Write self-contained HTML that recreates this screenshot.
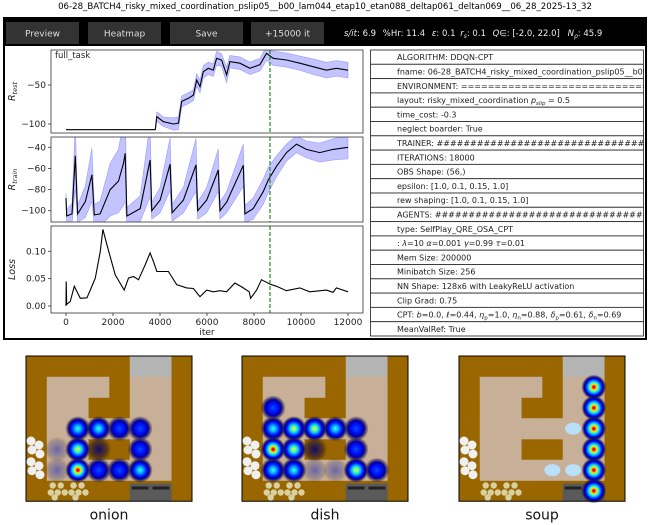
<!DOCTYPE html>
<html><head><meta charset="utf-8">
<style>
html,body{margin:0;padding:0;background:#fff;}
svg{display:block;font-family:"DejaVu Sans","Liberation Sans",sans-serif;}
</style></head>
<body>
<svg id="root" width="650" height="525" viewBox="0 0 650 525" xmlns="http://www.w3.org/2000/svg">
<defs>
<clipPath id="tclip"><rect x="370" y="48" width="274" height="290"/></clipPath>
<clipPath id="p1c"><rect x="51" y="50" width="312" height="83"/></clipPath>
<clipPath id="p2c"><rect x="51" y="137" width="312" height="85"/></clipPath>
<clipPath id="p3c"><rect x="51" y="226" width="312" height="87"/></clipPath>
<radialGradient id="h0"><stop offset="0" stop-color="#000070" stop-opacity="0.9"/><stop offset="0.6" stop-color="#201040" stop-opacity="0.6"/><stop offset="1" stop-color="#000" stop-opacity="0"/></radialGradient>
<radialGradient id="h1"><stop offset="0" stop-color="#3030b0" stop-opacity="0.6"/><stop offset="0.6" stop-color="#404090" stop-opacity="0.35"/><stop offset="1" stop-color="#000" stop-opacity="0"/></radialGradient>
<radialGradient id="h2"><stop offset="0" stop-color="#0050ff"/><stop offset="0.35" stop-color="#0010ff"/><stop offset="0.65" stop-color="#0000a0"/><stop offset="0.85" stop-color="#201050" stop-opacity="0.5"/><stop offset="1" stop-color="#000" stop-opacity="0"/></radialGradient>
<radialGradient id="h3"><stop offset="0" stop-color="#40ffe0"/><stop offset="0.28" stop-color="#00a0ff"/><stop offset="0.52" stop-color="#0010ff"/><stop offset="0.72" stop-color="#000090"/><stop offset="0.88" stop-color="#201050" stop-opacity="0.5"/><stop offset="1" stop-color="#000" stop-opacity="0"/></radialGradient>
<radialGradient id="h4"><stop offset="0" stop-color="#e0ff20"/><stop offset="0.18" stop-color="#60ffa0"/><stop offset="0.38" stop-color="#00b0ff"/><stop offset="0.58" stop-color="#0010ff"/><stop offset="0.76" stop-color="#000090"/><stop offset="0.9" stop-color="#201050" stop-opacity="0.5"/><stop offset="1" stop-color="#000" stop-opacity="0"/></radialGradient>
<radialGradient id="h5"><stop offset="0" stop-color="#b00000"/><stop offset="0.1" stop-color="#ff1000"/><stop offset="0.22" stop-color="#ffe000"/><stop offset="0.35" stop-color="#40ffc0"/><stop offset="0.5" stop-color="#00a0ff"/><stop offset="0.64" stop-color="#0010ff"/><stop offset="0.78" stop-color="#000090"/><stop offset="0.9" stop-color="#201050" stop-opacity="0.5"/><stop offset="1" stop-color="#000" stop-opacity="0"/></radialGradient>
</defs>
<g id="chartLayer"></g>
</svg>
<script>
// ---------------- chart data ----------------
const xTicks = [0, 2000, 4000, 6000, 8000, 10000, 12000];
const bestIter = 8680;
const testIter = [0, 3800, 3863, 4146, 4571, 4783, 4925, 5208, 5420, 5561, 5703, 5844, 6056, 6269, 6410, 6622, 6835, 6976, 7401, 7825, 8250, 8533, 8816, 9382, 9948, 10514, 11080, 11505, 12000];
const testVal  = [-107.3, -107.3, -90.6, -97, -100, -99, -71, -67, -63, -43.6, -52, -33, -28.6, -31, -15.8, -18, -37, -20, -22, -28.6, -24, -9.4, -15.8, -18, -22, -26.5, -31, -28.6, -31];
const testStd  = [0, 0, 6, 6, 8, 8, 7, 7, 7, 8, 8, 8, 8, 8, 9, 8, 10, 8, 8, 8, 8, 9, 9, 9, 9, 10, 10, 10, 10];
const testTicks = [-50, -100];
const trainIter = [0, 30, 255, 396, 495, 820, 962, 1104, 1203, 1450, 1882, 2235, 2448, 2519, 2590, 3156, 3580, 3651, 4005, 4429, 4514, 4995, 5533, 5604, 5986, 6481, 6552, 6835, 7543, 7614, 7967, 8391, 8604, 8958, 9382, 9807, 10231, 10797, 11363, 12000];
const trainVal  = [-88, -105, -103, -48, -103, -91.5, -78.8, -66, -104, -103, -80, -72, -55, -45.7, -105, -98, -52, -100, -90, -56, -102, -90, -56.7, -100, -90, -61.5, -100, -92, -57, -103, -98, -82, -71, -58, -45, -37, -42, -45, -42, -40];
const trainStd  = [5, 6, 10, 30, 8, 15, 20, 25, 10, 12, 25, 30, 40, 45, 8, 12, 35, 8, 12, 25, 8, 12, 25, 8, 12, 20, 8, 10, 20, 8, 10, 12, 12, 10, 8, 8, 8, 9, 10, 11];
const trainTicks = [-40, -60, -80, -100];
const lossIter = [0, 10, 30, 180, 354, 608, 891, 1033, 1245, 1458, 1571, 1740, 2094, 2476, 2660, 2873, 3085, 3368, 3580, 3750, 3863, 4358, 4712, 5137, 5420, 5703, 5986, 6269, 6552, 6835, 7189, 7543, 7797, 7854, 8109, 8321, 8675, 8958, 9382, 9948, 10373, 11080, 11363, 11505, 12000];
const lossVal  = [0.0, 0.045, 0.003, 0.008, 0.036, 0.014, 0.015, 0.029, 0.051, 0.10, 0.14, 0.112, 0.057, 0.029, 0.051, 0.054, 0.048, 0.075, 0.097, 0.078, 0.063, 0.063, 0.039, 0.033, 0.032, 0.017, 0.029, 0.026, 0.028, 0.026, 0.042, 0.033, 0.026, 0.014, 0.029, 0.048, 0.040, 0.036, 0.028, 0.033, 0.026, 0.029, 0.025, 0.033, 0.026];
const lossTicks = [0.10, 0.05, 0.00];
const tableRows = ["ALGORITHM: DDQN-CPT","fname: 06-28_BATCH4_risky_mixed_coordination_pslip05__b00_lam044","ENVIRONMENT: ============================================","layout: risky_mixed_coordination |PSLIP|","time_cost: -0.3","neglect boarder: True","TRAINER: ##################################################","ITERATIONS: 18000","OBS Shape: (56,)","epsilon: [1.0, 0.1, 0.15, 1.0]","rew shaping: [1.0, 0.1, 0.15, 1.0]","AGENTS: ##################################################","type: SelfPlay_QRE_OSA_CPT","|HYP|","Mem Size: 200000","Minibatch Size: 256","NN Shape: 128x6 with LeakyReLU activation","Clip Grad: 0.75","|CPT|","MeanValRef: True"];
const layoutRows = ["XXXXXSSX","X___X__X","X__XX__X","X______X","D__XX__X","D______X","XOOXXBBX"];
const heatOnion = [[3,2,3],[3,3,3],[3,4,2],[3,5,2],[4,1,1],[4,2,4],[4,3,0],[4,5,2],[5,1,1],[5,2,5],[5,3,2],[5,4,2],[5,5,3]];
const heatDish  = [[2,1,2],[3,1,3],[3,2,4],[3,3,4],[3,4,3],[3,5,2],[4,1,5],[4,2,4],[4,3,0],[4,5,2],[5,1,3],[5,2,3],[5,3,1],[5,4,1],[5,5,4],[5,6,2]];
const heatSoup  = [[1,6,5],[2,6,5],[3,6,5],[4,6,5],[5,6,5],[6,6,5]];

const NS = "http://www.w3.org/2000/svg";
const root = document.getElementById('chartLayer');
function mk(tag, attrs, parent, text){
  const e = document.createElementNS(NS, tag);
  for (const k in attrs) e.setAttribute(k, attrs[k]);
  if (text !== undefined) e.textContent = text;
  (parent || root).appendChild(e);
  return e;
}
const X0 = 66, X1 = 348;
function xs(v){ return X0 + v * (X1 - X0) / 12000; }
function makeY(v0, p0, v1, p1){ return v => p0 + (v - v0) * (p1 - p0) / (v1 - v0); }

// ---------- title & top bar ----------
const title = mk('text',{x:325,y:9,'font-size':8.6,'text-anchor':'middle',fill:'#000'},root,'06-28_BATCH4_risky_mixed_coordination_pslip05__b00_lam044_etap10_etan088_deltap061_deltan069__06_28_2025-13_32');


const bar = mk('rect',{x:3,y:18,width:644,height:28,fill:'#000'});


const frame = mk('rect',{x:4,y:18,width:642,height:321,fill:'none',stroke:'#000','stroke-width':2});


const btns = [["Preview",6,'preview-button'],["Heatmap",88,'heatmap-button'],["Save",170,'save-button'],["+15000 it",251,'train-more-button']];
for (const b of btns){
  const g = mk('g',{});
  
  
  mk('rect',{x:b[1],y:22,width:73,height:22,fill:'#333'},g);
  mk('text',{x:b[1]+36.5,y:36.5,'font-size':9,'text-anchor':'middle',fill:'#ddd'},g,b[0]);
}
const stats = mk('text',{x:344,y:36,'font-size':8.5,fill:'#eee'});


stats.innerHTML = '<tspan font-style="italic">s/it</tspan>: 6.9 <tspan dx="4">%Hr: 11.4</tspan> <tspan dx="4" font-style="italic">ε</tspan>: 0.1 <tspan dx="2" font-style="italic">r</tspan><tspan font-size="6" dy="2" font-style="italic">s</tspan><tspan dy="-2">: 0.1</tspan> <tspan dx="4" font-style="italic">Q</tspan>∈: [-2.0, 22.0] <tspan dx="5" font-style="italic">N</tspan><tspan font-size="6" dy="2" font-style="italic">ρ</tspan><tspan dy="-2">: 45.9</tspan>';

// ---------- plotting ----------
function panel(name, top, bot, yfn, ticks, fmt, iters, vals, std, clip, label){
  const g = mk('g',{});
  
  
  if (std){
    let d = '';
    for (let i=0;i<iters.length;i++) d += (i?'L':'M') + xs(iters[i]).toFixed(1) + ',' + yfn(vals[i]+std[i]).toFixed(1);
    for (let i=iters.length-1;i>=0;i--) d += 'L' + xs(iters[i]).toFixed(1) + ',' + yfn(vals[i]-std[i]).toFixed(1);
    const band = mk('path',{d:d+'Z',fill:'#b8b8ff','fill-opacity':0.85,stroke:'#9a9aff','stroke-width':0.6,'clip-path':'url(#'+clip+')'},g);
    
    
  }
  let d = '';
  for (let i=0;i<iters.length;i++) d += (i?'L':'M') + xs(iters[i]).toFixed(1) + ',' + yfn(vals[i]).toFixed(1);
  const line = mk('path',{d:d,fill:'none',stroke:'#000','stroke-width':1.1,'clip-path':'url(#'+clip+')'},g);
  
  
  const vx = xs(bestIter);
  const vl = mk('line',{x1:vx,x2:vx,y1:top,y2:bot,stroke:'#228b22','stroke-width':1.2,'stroke-dasharray':'4,2'},g);
  
  
  mk('rect',{x:51,y:top,width:312,height:bot-top,fill:'none',stroke:'#333','stroke-width':0.8},g);
  for (const t of ticks){
    const y = yfn(t);
    mk('line',{x1:48,x2:51,y1:y,y2:y,stroke:'#333','stroke-width':0.8},g);
    const tl = mk('text',{x:46,y:y+3,'font-size':9,'text-anchor':'end',fill:'#222'},g,fmt(t));
    
    
  }
  const ly = (top+bot)/2;
  const yl = mk('text',{x:0,y:0,'font-size':9.5,'font-style':'italic','text-anchor':'middle',fill:'#222',transform:'translate(15,'+ly+') rotate(-90)'},g);
  yl.innerHTML = label;
  
  
  return g;
}
const y1 = makeY(-50, 85, -100, 124);
const y2 = makeY(-40, 147.3, -100, 210.7);
const y3 = makeY(0.10, 251.3, 0.0, 306);
panel('test-reward-panel',50,133,y1,testTicks,t=>'\u2212'+Math.abs(t),testIter,testVal,testStd,'p1c','R<tspan font-size="6.5" dy="2">test</tspan>');
panel('train-reward-panel',137,222,y2,trainTicks,t=>'\u2212'+Math.abs(t),trainIter,trainVal,trainStd,'p2c','R<tspan font-size="6.5" dy="2">train</tspan>');
panel('loss-panel',226,313,y3,lossTicks,t=>t.toFixed(2),lossIter,lossVal,null,'p3c','Loss');
const ft = mk('text',{x:55,y:58,'font-size':8.5,fill:'#222'},root,'full_task');


for (const t of xTicks){
  const x = xs(t);
  mk('line',{x1:x,x2:x,y1:313,y2:316,stroke:'#333','stroke-width':0.8});
  const tl = mk('text',{x:x,y:325,'font-size':9,'text-anchor':'middle',fill:'#222'},root,String(t));
  
  
}
const xt = mk('text',{x:207,y:335,'font-size':9,'text-anchor':'middle',fill:'#222'},root,'iter');



// ---------- table ----------
const tg = mk('g',{'clip-path':'url(#tclip)'});


const rh = 286/20;
for (let i=0;i<tableRows.length;i++){
  const y = 50 + i*rh;
  mk('rect',{x:370.5,y:y,width:273,height:rh,fill:'#fff',stroke:'#333','stroke-width':0.9},tg);
  const tx = mk('text',{x:397,y:y+rh/2+3,'font-size':8,fill:'#222'},tg);
  
  
  let s = tableRows[i];
  if (s.indexOf('|PSLIP|')>=0){ tx.innerHTML = 'layout: risky_mixed_coordination <tspan font-style="italic">p</tspan><tspan font-size="5.5" dy="2" font-style="italic">slip</tspan><tspan dy="-2"> = 0.5</tspan>'; }
  else if (s==='|HYP|'){ tx.innerHTML = ': <tspan font-style="italic">λ</tspan>=10  <tspan font-style="italic">α</tspan>=0.001  <tspan font-style="italic">γ</tspan>=0.99   <tspan font-style="italic">τ</tspan>=0.01'; }
  else if (s==='|CPT|'){ tx.innerHTML = 'CPT: <tspan font-style="italic">b</tspan>=0.0, <tspan font-style="italic">ℓ</tspan>=0.44, <tspan font-style="italic">η</tspan><tspan font-size="5.5" dy="2">p</tspan><tspan dy="-2">=1.0, </tspan><tspan font-style="italic">η</tspan><tspan font-size="5.5" dy="2">n</tspan><tspan dy="-2">=0.88, </tspan><tspan font-style="italic">δ</tspan><tspan font-size="5.5" dy="2">p</tspan><tspan dy="-2">=0.61, </tspan><tspan font-style="italic">δ</tspan><tspan font-size="5.5" dy="2">n</tspan><tspan dy="-2">=0.69</tspan>'; }
  else tx.textContent = s;
}

// ---------- heatmap images ----------
const T = 20.75;
function kitchen(name, ox, oy, heat, label, clouds){
  const g = mk('g',{});
  
  
  mk('rect',{x:ox,y:oy,width:8*T,height:7*T,fill:'#996600'},g);
  for (let r=0;r<7;r++) for (let c=0;c<8;c++){
    const ch = layoutRows[r][c];
    const x = ox+c*T, y = oy+r*T;
    if (ch==='_') mk('rect',{x:x,y:y,width:T+0.3,height:T+0.3,fill:'#c8b098'},g);
    else if (ch==='S') mk('rect',{x:x,y:y,width:T+0.3,height:T+0.3,fill:'#b4b4b4'},g);
    else if (ch==='B'){ mk('rect',{x:x,y:y+3,width:T+0.3,height:T-3,fill:'#5a5a5a'},g); mk('rect',{x:x+2,y:y+6,width:T-4,height:3,fill:'#222'},g); }
    else if (ch==='D'){ for (const p of [[5,4],[13,8],[6,13],[14,17]]) mk('circle',{cx:x+p[0],cy:y+p[1]-2,r:4.5,fill:'#f0f0f0'},g); }
    else if (ch==='O'){ for (const p of [[6,5],[14,5],[4,12],[11,12],[18,12],[8,17]]) mk('circle',{cx:x+p[0],cy:y+p[1],r:3.2,fill:'#d8d0a0'},g); }
  }
  for (const cl of clouds){
    mk('ellipse',{cx:ox+(cl[1]+0.5)*T,cy:oy+(cl[0]+0.5)*T,rx:8,ry:6,fill:'#b8e0f8'},g);
  }
  for (const h of heat){
    const b = mk('circle',{cx:ox+(h[1]+0.5)*T,cy:oy+(h[0]+0.5)*T,r:T*0.6,fill:'url(#h'+h[2]+')'},g);
    
    
  }
  mk('rect',{x:ox,y:oy,width:8*T,height:7*T,fill:'none',stroke:'#000','stroke-width':1},g);
  const lt = mk('text',{x:ox+4*T,y:oy+7*T+18,'font-size':14,'text-anchor':'middle',fill:'#111'},g,label);
  
  
}
kitchen('onion-heatmap',26,356,heatOnion,'onion',[]);
kitchen('dish-heatmap',242,356,heatDish,'dish',[]);
kitchen('soup-heatmap',459,356,heatSoup,'soup',[[3,5],[5,4],[5,5]]);
</script>
</body></html>
